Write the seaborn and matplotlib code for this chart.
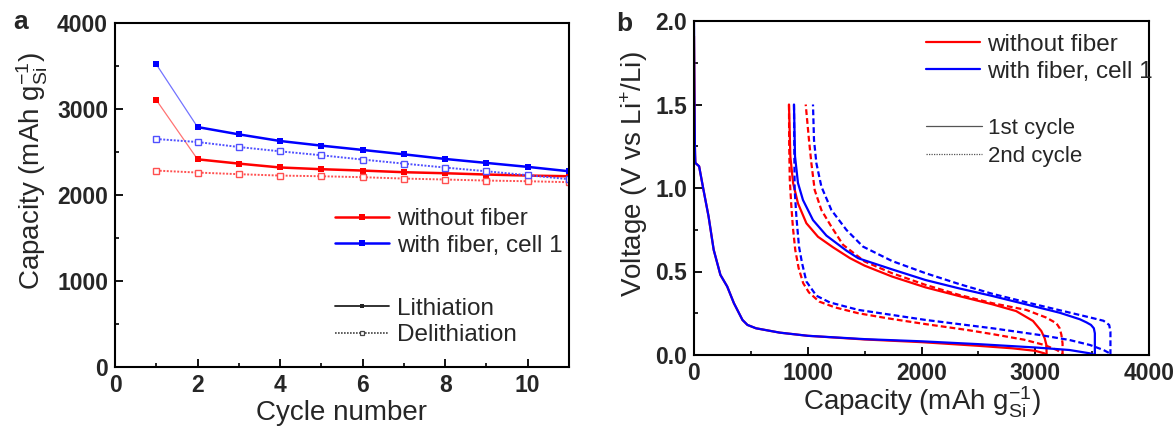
import numpy as np
import pandas as pd
import matplotlib
matplotlib.use("Agg")
import matplotlib.pyplot as plt
from matplotlib.lines import Line2D
from matplotlib.ticker import MultipleLocator, FormatStrFormatter
import seaborn as sns

# ---------------- data: panel a ----------------
cycles = [1, 2, 3, 4, 5, 6, 7, 8, 9, 10, 11]
lith_without = [3105, 2415, 2365, 2320, 2300, 2284, 2265, 2253, 2238, 2226, 2218]
lith_with = [3520, 2790, 2705, 2628, 2574, 2524, 2473, 2419, 2373, 2327, 2276]
delith_without = [2284, 2261, 2242, 2226, 2218, 2207, 2191, 2180, 2168, 2160, 2149]
delith_with = [2651, 2616, 2558, 2508, 2462, 2412, 2365, 2319, 2276, 2230, 2184]

# ---------------- data: panel b (capacity mAh/g, voltage V) ----------------
lith1_without_cap = [0, 4, 6, 9, 12, 45, 83, 128, 173, 232, 292, 351, 426, 470, 545, 753, 1000, 1500, 2000, 2500, 2800, 3000, 3080, 3100]
lith1_without_v = [1.91, 1.6, 1.35, 1.2, 1.15, 1.13, 0.99, 0.83, 0.63, 0.48, 0.41, 0.31, 0.21, 0.18, 0.16, 0.134, 0.115, 0.093, 0.077, 0.055, 0.04, 0.025, 0.01, 0.0]
delith1_without_cap = [3100, 3098, 3083, 3053, 2980, 2832, 2625, 2330, 2035, 1740, 1500, 1371, 1222, 1090, 988, 914, 871, 847, 835]
delith1_without_v = [0.0, 0.06, 0.1, 0.144, 0.204, 0.263, 0.303, 0.353, 0.405, 0.47, 0.535, 0.58, 0.645, 0.708, 0.789, 0.908, 1.03, 1.19, 1.5]
lith2_without_cap = [835, 837, 842, 855, 870, 890, 920, 960, 1010, 1100, 1240, 1445, 1700, 2035, 2400, 2625, 2900, 3080, 3190, 3236, 3240]
lith2_without_v = [1.5, 1.25, 1.05, 0.9, 0.76, 0.63, 0.52, 0.43, 0.375, 0.32, 0.285, 0.25, 0.22, 0.185, 0.15, 0.125, 0.092, 0.06, 0.03, 0.01, 0.0]
delith2_without_cap = [3240, 3240, 3230, 3215, 3186, 3097, 2920, 2625, 2330, 2035, 1740, 1500, 1310, 1208, 1120, 1061, 1032, 1011, 982]
delith2_without_v = [0.0, 0.07, 0.12, 0.16, 0.19, 0.224, 0.27, 0.31, 0.36, 0.42, 0.49, 0.56, 0.66, 0.768, 0.868, 0.988, 1.148, 1.287, 1.5]

lith1_with_cap = [0, 3, 8, 12, 45, 83, 128, 173, 232, 292, 351, 426, 470, 545, 753, 1000, 1500, 2000, 2500, 3000, 3300, 3480, 3524]
lith1_with_v = [2.0, 1.6, 1.25, 1.15, 1.13, 0.99, 0.83, 0.63, 0.48, 0.41, 0.31, 0.21, 0.18, 0.16, 0.134, 0.115, 0.095, 0.082, 0.065, 0.045, 0.03, 0.01, 0.0]
delith1_with_cap = [3524, 3524, 3515, 3490, 3451, 3392, 3215, 2920, 2625, 2330, 2035, 1740, 1445, 1340, 1164, 1046, 958, 914, 888, 879]
delith1_with_v = [0.0, 0.13, 0.16, 0.18, 0.195, 0.214, 0.253, 0.303, 0.353, 0.399, 0.449, 0.513, 0.579, 0.625, 0.715, 0.808, 0.928, 1.03, 1.19, 1.5]
lith2_with_cap = [879, 882, 885, 900, 923, 950, 988, 1076, 1193, 1445, 2035, 2625, 3038, 3300, 3481, 3600, 3655, 3661]
lith2_with_v = [1.5, 1.2, 0.99, 0.828, 0.649, 0.55, 0.44, 0.355, 0.315, 0.27, 0.21, 0.16, 0.12, 0.09, 0.06, 0.03, 0.01, 0.0]
delith2_with_cap = [3661, 3661, 3650, 3600, 3481, 3215, 2920, 2625, 2330, 2035, 1740, 1486, 1340, 1208, 1120, 1076, 1055, 1046]
delith2_with_v = [0.0, 0.14, 0.18, 0.205, 0.225, 0.268, 0.316, 0.366, 0.425, 0.49, 0.563, 0.649, 0.749, 0.868, 1.008, 1.148, 1.287, 1.5]

labels_series = ["without fiber", "with fiber, cell 1"]
labels_a_style = ["Lithiation", "Delithiation"]
labels_b_style = ["1st cycle", "2nd cycle"]

RED = "#ff0000"
BLUE = "#0000ff"
LRED = "#ff5050"
LBLUE = "#5050ff"

sns.set_theme(style="ticks")
plt.rcParams["font.family"] = ["Liberation Sans", "DejaVu Sans"]
plt.rcParams["mathtext.fontset"] = "custom"
plt.rcParams["mathtext.rm"] = "Liberation Sans"
plt.rcParams["mathtext.it"] = "Liberation Sans:italic"
plt.rcParams["mathtext.bf"] = "Liberation Sans:bold"

fig = plt.figure(figsize=(11.75, 4.29), dpi=100)
W, H = 1175, 429
def axes_px(l, r, t, b):
    return fig.add_axes([l / W, 1 - b / H, (r - l) / W, (b - t) / H])

axa = axes_px(115, 569, 23, 367)
axb = axes_px(694, 1149, 21, 355)

TICKFS = 16.5
LABFS = 20
LEGFS = 17.5

def style_axes(ax):
    for s in ax.spines.values():
        s.set_linewidth(1.5)
        s.set_color("black")
        s.set_visible(True)
    ax.tick_params(which="major", direction="in", length=6, width=1.3,
                   labelsize=TICKFS, pad=5, top=False, right=False, color="black")
    ax.tick_params(which="minor", direction="in", length=3, width=1.2,
                   top=False, right=False, color="black")
    for lab in ax.get_xticklabels() + ax.get_yticklabels():
        lab.set_fontweight("bold")

# ---------------- panel a ----------------
ms = 4.8
for lith, delith, c, lc in [(lith_without, delith_without, RED, LRED),
                            (lith_with, delith_with, BLUE, LBLUE)]:
    sns.lineplot(x=cycles[:2], y=lith[:2], ax=axa, color=c, lw=0.9, alpha=0.55,
                 estimator=None, sort=False, legend=False)
    sns.lineplot(x=cycles[1:], y=lith[1:], ax=axa, color=c, lw=1.8,
                 estimator=None, sort=False, legend=False)
    sns.lineplot(x=cycles, y=lith, ax=axa, color=c, lw=0, marker="s",
                 markersize=ms, markeredgewidth=0, estimator=None, sort=False,
                 legend=False, clip_on=True)
    sns.lineplot(x=cycles, y=delith, ax=axa, color=lc, lw=1.4, ls=(0, (1, 0.8)),
                 marker="s", markersize=ms, markerfacecolor="white",
                 markeredgecolor=lc, markeredgewidth=1.0,
                 estimator=None, sort=False, legend=False)

axa.set_xlim(0, 11)
axa.set_ylim(0, 4000)
axa.xaxis.set_major_locator(MultipleLocator(2))
axa.xaxis.set_minor_locator(MultipleLocator(1))
axa.yaxis.set_major_locator(MultipleLocator(1000))
axa.yaxis.set_minor_locator(MultipleLocator(500))
axa.set_xlabel("Cycle number", fontsize=LABFS, labelpad=2)
axa.set_ylabel(r"Capacity (mAh g$_{\mathrm{Si}}^{-1}$)", fontsize=LABFS)
axa.yaxis.set_label_coords(-0.143, 0.57)
style_axes(axa)

h1 = [Line2D([], [], color=RED, lw=1.8, marker="s", markersize=ms, markeredgewidth=0),
      Line2D([], [], color=BLUE, lw=1.8, marker="s", markersize=ms, markeredgewidth=0)]
leg1 = axa.legend(h1, labels_series, loc="upper left", bbox_to_anchor=(0.485, 0.462),
                  frameon=False, fontsize=LEGFS, handlelength=2.2, handletextpad=0.35,
                  labelspacing=0.2, borderpad=0, borderaxespad=0)
axa.add_artist(leg1)
h2 = [Line2D([], [], color="#222222", lw=1.3, marker="s", markersize=3.5, markeredgewidth=0),
      Line2D([], [], color="#444444", lw=1.2, ls=(0, (1, 0.8)), marker="s", markersize=3.5,
             markerfacecolor="white", markeredgecolor="#444444", markeredgewidth=0.9)]
axa.legend(h2, labels_a_style, loc="upper left", bbox_to_anchor=(0.485, 0.202),
           frameon=False, fontsize=LEGFS, handlelength=2.2, handletextpad=0.35,
           labelspacing=0.2, borderpad=0, borderaxespad=0)

# ---------------- panel b ----------------
DASH = (0, (2.6, 1.4))
curves = [
    (lith1_without_cap, lith1_without_v, RED, "-"),
    (delith1_without_cap, delith1_without_v, RED, "-"),
    (lith2_without_cap, lith2_without_v, RED, DASH),
    (delith2_without_cap, delith2_without_v, RED, DASH),
    (lith1_with_cap, lith1_with_v, BLUE, "-"),
    (delith1_with_cap, delith1_with_v, BLUE, "-"),
    (lith2_with_cap, lith2_with_v, BLUE, DASH),
    (delith2_with_cap, delith2_with_v, BLUE, DASH),
]
for xs, ys, c, ls in curves:
    sns.lineplot(x=xs, y=ys, ax=axb, color=c, lw=1.6, ls=ls,
                 estimator=None, sort=False, legend=False)

axb.set_xlim(0, 4000)
axb.set_ylim(0, 2.0)
axb.xaxis.set_major_locator(MultipleLocator(1000))
axb.xaxis.set_minor_locator(MultipleLocator(500))
axb.yaxis.set_major_locator(MultipleLocator(0.5))
axb.yaxis.set_minor_locator(MultipleLocator(0.25))
axb.yaxis.set_major_formatter(FormatStrFormatter("%.1f"))
axb.set_xlabel(r"Capacity (mAh g$_{\mathrm{Si}}^{-1}$)", fontsize=LABFS, labelpad=0)
axb.set_ylabel(r"Voltage (V vs Li$^{+}$/Li)", fontsize=LABFS)
axb.yaxis.set_label_coords(-0.097, 0.54)
style_axes(axb)

hb1 = [Line2D([], [], color=RED, lw=1.6), Line2D([], [], color=BLUE, lw=1.6)]
legb1 = axb.legend(hb1, labels_series, loc="upper left", bbox_to_anchor=(0.51, 0.962),
                   frameon=False, fontsize=LEGFS, handlelength=2.2, handletextpad=0.3,
                   labelspacing=0.2, borderpad=0, borderaxespad=0)
axb.add_artist(legb1)
hb2 = [Line2D([], [], color="#555555", lw=0.9),
       Line2D([], [], color="#555555", lw=0.9, ls=(0, (1, 1)))]
axb.legend(hb2, labels_b_style, loc="upper left", bbox_to_anchor=(0.51, 0.71),
           frameon=False, fontsize=LEGFS - 1.5, handlelength=2.5, handletextpad=0.3,
           labelspacing=0.3, borderpad=0, borderaxespad=0)

fig.text(21 / W, 1 - 22 / H, "a", fontsize=19, fontweight="bold", va="center", ha="center")
fig.text(624 / W, 1 - 24 / H, "b", fontsize=19, fontweight="bold", va="center", ha="center")

fig.savefig("out.png", dpi=100)
